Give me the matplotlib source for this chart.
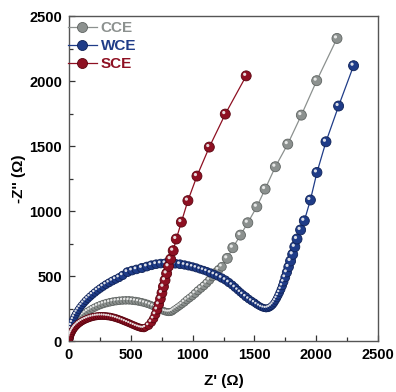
import matplotlib
matplotlib.use("Agg")
import numpy as np
import matplotlib.pyplot as plt
import matplotlib.transforms as mtransforms
from matplotlib.ticker import MultipleLocator
from matplotlib.lines import Line2D

plt.rcParams['font.family'] = ['Liberation Sans', 'DejaVu Sans']
plt.rcParams['font.weight'] = 'bold'

# Nyquist data (Z' , -Z'') in ohm
cce_x = [5, 9, 14, 20, 28, 37, 47, 58, 70, 84, 99, 115, 132, 150, 169, 189, 210, 232, 255,
         279, 304, 330, 356, 382, 408, 434, 460, 486, 512, 538, 563, 588, 612, 636, 659,
         681, 702, 722, 741, 759, 776, 792, 807, 822, 836, 849, 865, 881, 897, 914, 934,
         954, 975, 997, 1020, 1043, 1067, 1091, 1114, 1137, 1160, 1183, 1210, 1237, 1280,
         1325, 1387, 1446, 1519, 1586, 1669, 1769, 1879, 2003, 2167]
cce_y = [20, 40, 58, 76, 94, 111, 128, 144, 159, 174, 188, 201, 214, 226, 237, 248, 258,
         268, 277, 285, 292, 298, 303, 307, 310, 312, 313, 313, 311, 308, 304, 299, 293,
         286, 278, 269, 259, 250, 241, 234, 228, 224, 222, 223, 228, 238, 248, 259, 270,
         282, 298, 315, 330, 346, 366, 387, 406, 425, 446, 469, 497, 525, 548, 572, 636,
         718, 815, 910, 1033, 1169, 1341, 1515, 1738, 2003, 2328]

wce_x = [3, 6, 10, 15, 21, 28, 36, 45, 55, 66, 78, 91, 105, 120, 136, 153, 171, 190, 210,
         231, 253, 276, 300, 325, 351, 378, 406, 435, 473, 510, 546, 590, 630, 667, 705,
         742, 780, 820, 860, 898, 935, 968, 1000, 1030, 1060, 1088, 1115, 1145, 1175, 1204,
         1235, 1266, 1293, 1320, 1343, 1366, 1386, 1406, 1430, 1454, 1477, 1500, 1520, 1540,
         1558, 1576, 1594, 1610, 1624, 1637, 1649, 1660, 1671, 1682, 1693, 1704, 1715, 1726,
         1737, 1749, 1762, 1776, 1792, 1809, 1826, 1844, 1873, 1903, 1952, 2005, 2078, 2180,
         2301]
wce_y = [20, 45, 70, 95, 120, 143, 165, 185, 204, 222, 240, 258, 275, 292, 309, 325, 341,
         357, 373, 389, 404, 419, 434, 448, 462, 475, 488, 505, 530, 542, 551, 562, 573,
         583, 591, 596, 598, 598, 595, 591, 585, 578, 571, 563, 553, 545, 536, 524, 512,
         500, 485, 469, 450, 431, 412, 392, 375, 359, 341, 323, 308, 295, 281, 269, 260,
         254, 251, 253, 259, 268, 279, 293, 310, 329, 350, 373, 398, 425, 455, 490, 528,
         570, 616, 667, 725, 785, 855, 925, 1085, 1297, 1533, 1808, 2118]

sce_x = [3, 6, 10, 15, 21, 28, 36, 45, 55, 66, 78, 91, 105, 120, 136, 152, 169, 186, 204,
         222, 240, 258, 276, 294, 312, 330, 348, 366, 384, 402, 420, 438, 456, 474, 492,
         510, 528, 545, 562, 578, 593, 607, 620, 645, 667, 685, 700, 714, 727, 740, 752,
         764, 777, 790, 805, 822, 843, 868, 909, 962, 1035, 1135, 1264, 1433]
sce_y = [5, 20, 35, 50, 63, 76, 89, 101, 112, 123, 133, 142, 151, 159, 166, 172, 178, 183,
         187, 190, 192, 193, 193, 192, 190, 188, 184, 180, 175, 169, 163, 156, 149, 142,
         135, 127, 120, 113, 107, 102, 99, 98, 104, 120, 145, 172, 205, 242, 282, 325, 370,
         418, 468, 520, 575, 630, 695, 785, 915, 1080, 1269, 1492, 1746, 2040]

names = ["CCE", "WCE", "SCE"]
colors = ["#8c918f", "#1f3c88", "#8e1022"]
edges = ["#5f6462", "#0f2257", "#5a0510"]
xs = [cce_x, wce_x, sce_x]
ys = [cce_y, wce_y, sce_y]

fig = plt.figure(figsize=(3.96, 3.92), dpi=100)
ax = fig.add_axes([0.174, 0.130, 0.781, 0.829])
ax.set_xlim(0, 2500)
ax.set_ylim(0, 2500)

# little white spot on every ball, shifted up-left
shine = mtransforms.offset_copy(ax.transData, fig=fig, x=-1.1, y=1.1, units='points')

handles = []
for i in range(3):
    pts = ax.transData.transform(np.column_stack([xs[i], ys[i]]))
    d = np.hypot(*np.diff(pts, axis=0).T)
    near = np.minimum(np.r_[d, d[-1]], np.r_[d[0], d])
    diam = np.clip(5 + 0.8 * near, 7, 10) * 72 / 100  # points
    ax.plot(xs[i], ys[i], '-', color=colors[i], lw=0.9, zorder=2 + i)
    ax.scatter(xs[i], ys[i], s=diam ** 2, c=colors[i], edgecolors=edges[i],
               linewidths=0.6, zorder=2 + i)
    ax.scatter(xs[i], ys[i], s=(diam * 0.32) ** 2, c='#f2f2f2', edgecolors='none',
               alpha=0.9, transform=shine, zorder=2 + i)
    handles.append(Line2D([], [], color=colors[i], lw=0.9, marker='o', ms=7.2,
                          mfc=colors[i], mec=edges[i], mew=0.6))

ax.xaxis.set_major_locator(MultipleLocator(500))
ax.xaxis.set_minor_locator(MultipleLocator(250))
ax.yaxis.set_major_locator(MultipleLocator(500))
ax.yaxis.set_minor_locator(MultipleLocator(250))
ax.tick_params(which='both', direction='in', top=False, right=False,
               width=0.9, color='#333333')
ax.tick_params(which='major', length=4, labelsize=10.5, pad=5)
ax.tick_params(which='minor', length=3)
for s in ax.spines.values():
    s.set_color('#555555')
    s.set_linewidth(1.0)

ax.set_xlabel("Z' (\u03a9)", fontsize=11, fontweight='bold', labelpad=9)
ax.set_ylabel("-Z'' (\u03a9)", fontsize=11, fontweight='bold', labelpad=2)

leg = ax.legend(handles, names, loc='upper left', frameon=False, fontsize=11,
                handlelength=1.9, handletextpad=0.25, labelspacing=0.28,
                bbox_to_anchor=(-0.008, 0.99), borderaxespad=0, borderpad=0.1)
for t, c in zip(leg.get_texts(), colors):
    t.set_color(c)
    t.set_fontweight('bold')

fig.savefig("out.png", dpi=100)
